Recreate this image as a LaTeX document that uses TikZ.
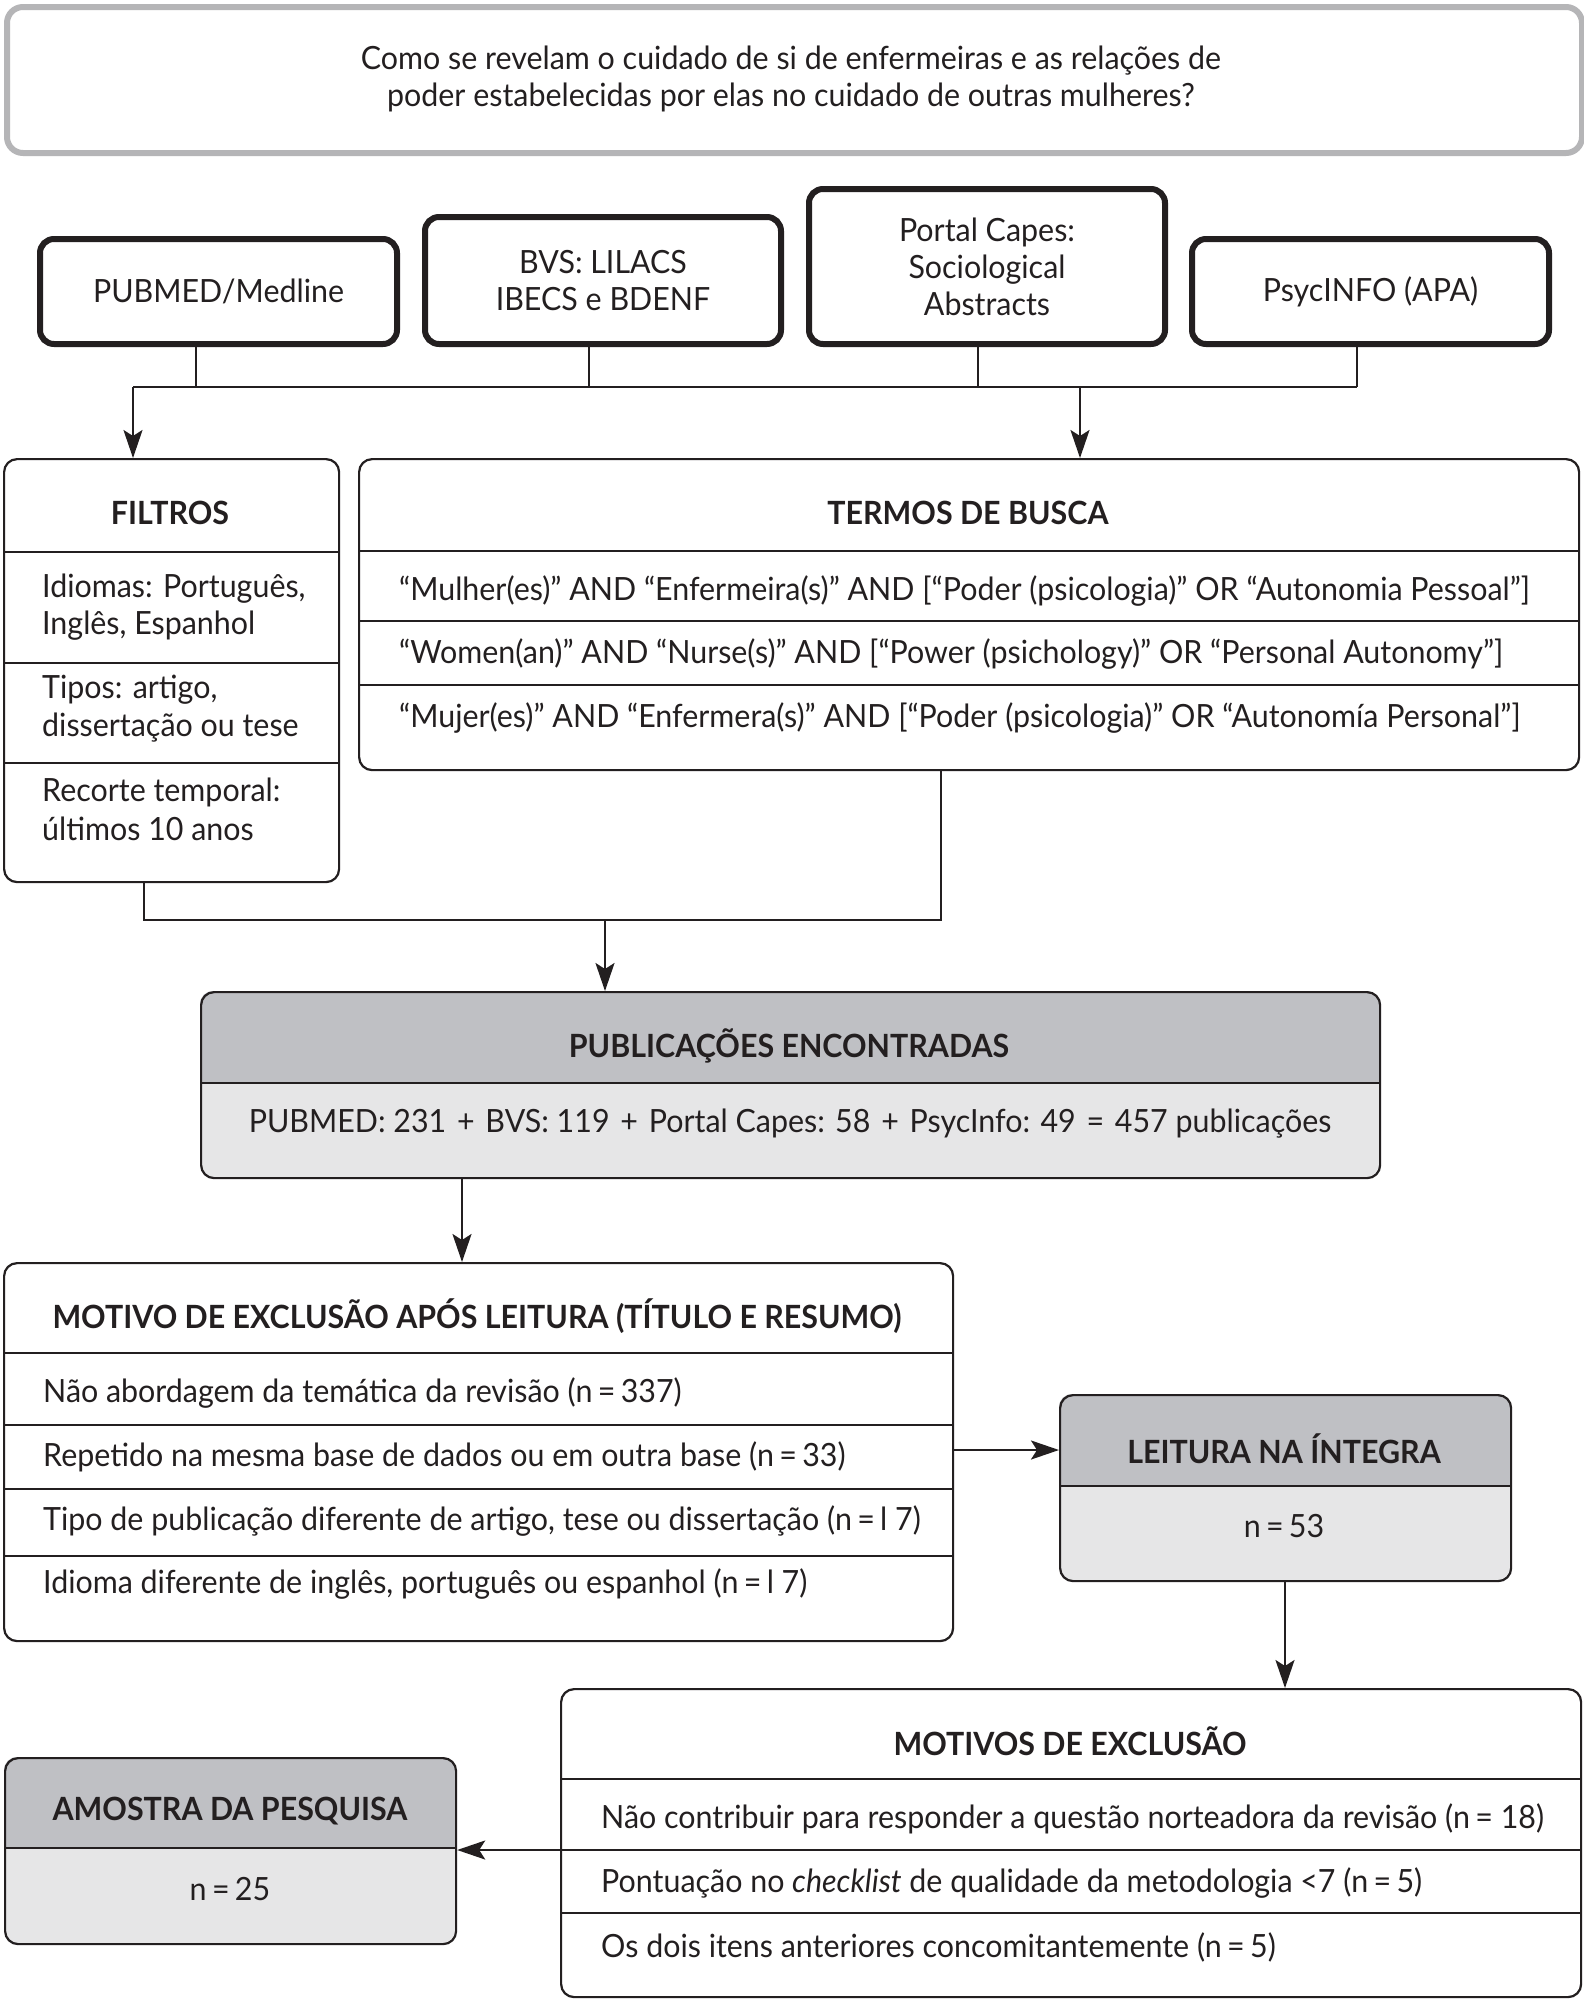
\documentclass[tikz,border=0pt]{standalone}
\usepackage{fontspec}
\setmainfont{Lato}[FakeStretch=0.95]
\usetikzlibrary{arrows.meta}
\pgfdeclarelayer{bg}
\pgfsetlayers{bg,main}
\definecolor{ink}{HTML}{231F20}
\definecolor{hdr}{HTML}{BFC0C4}
\definecolor{bodyg}{HTML}{E6E6E7}
\definecolor{frameg}{HTML}{B5B5B7}
\newcommand\grayhdbox[5]{% x1,y1,x2,y2,ydiv
  \begin{pgfonlayer}{bg}
    \fill[bodyg, rounded corners=13pt] (#1,#2) rectangle (#3,#4);
    \begin{scope}
      \clip[rounded corners=13pt] (#1,#2) rectangle (#3,#4);
      \fill[hdr] (#1,#2) rectangle (#3,#5);
    \end{scope}
  \end{pgfonlayer}}
\newcommand\pl{\kern3pt+\kern3pt}
\tikzset{
  box/.style={draw=ink, line width=2.2pt, rounded corners=13pt, inner sep=0pt, anchor=north west},
  srcbox/.style={draw=ink, line width=6pt, rounded corners=14pt, inner sep=0pt, anchor=north west},
  txt/.style={inner sep=0pt, text=ink, font=\fontsize{32}{37}\selectfont},
  hd/.style={inner sep=0pt, text=ink, font=\fontsize{32}{37}\selectfont\bfseries},
  div/.style={draw=ink, line width=2.6pt},
  conn/.style={draw=ink, line width=2.2pt},
  arr/.style={conn, -{Stealth[length=28pt,width=19pt,inset=6pt]}}
}
\begin{document}
\begin{tikzpicture}[x=1pt,y=-1pt]
\useasboundingbox (0,0) rectangle (1583,2000);
\begin{pgfonlayer}{bg}
  \fill[white] (0,0) rectangle (1583,2000);
\end{pgfonlayer}

% question box
\node[draw=frameg, line width=6pt, rounded corners=16pt, inner sep=0pt, anchor=north west,
      minimum width=1575pt, minimum height=146pt] (qbox) at (4,4) {};
\node[txt, align=center] (q) at (791,79) {Como se revelam o cuidado de si de enfermeiras e as relações de\\poder estabelecidas por elas no cuidado de outras mulheres?};

% sources
\node[srcbox, minimum width=357pt, minimum height=105pt] (pub) at (37,236) {};
\node[txt] (pubt) at (pub.center) {PUBMED/Medline};
\node[srcbox, minimum width=356pt, minimum height=127pt] (bvs) at (422,214) {};
\node[txt, align=center] (bvst) at (bvs.center) {BVS: LILACS\\IBECS e BDENF};
\node[srcbox, minimum width=356pt, minimum height=155pt] (cap) at (806,186) {};
\node[txt, align=center] (capt) at (cap.center) {Portal Capes:\\Sociological\\Abstracts};
\node[srcbox, minimum width=357pt, minimum height=105pt] (psy) at (1189,236) {};
\node[txt] (psyt) at (psy.center) {PsycINFO (APA)};

% filtros
\node[box, minimum width=335pt, minimum height=423pt] (fil) at (3,458) {};
\draw[div] (3,552) -- (338,552);
\draw[div] (3,663) -- (338,663);
\draw[div] (3,763) -- (338,763);
\node[hd] (filh) at (170,513) {FILTROS};
\node[txt, anchor=west] (f1) at (42,589) {Idiomas: Português,};
\node[txt, anchor=west] (f2) at (42,626) {Inglês, Espanhol};
\node[txt, anchor=west] (f3) at (42,690) {Tipos: artigo,};
\node[txt, anchor=west] (f4) at (42,728) {dissertação ou tese};
\node[txt, anchor=west] (f5) at (42,792) {Recorte temporal:};
\node[txt, anchor=west] (f6) at (42,829) {últimos 10 anos};

% termos
\node[box, minimum width=1220pt, minimum height=311pt] (ter) at (358,458) {};
\draw[div] (358,551) -- (1578,551);
\draw[div] (358,621) -- (1578,621);
\draw[div] (358,685) -- (1578,685);
\node[hd] (terh) at (968,513) {TERMOS DE BUSCA};
\node[txt, anchor=west] (t1) at (399,591) {“Mulher(es)” AND “Enfermeira(s)” AND [“Poder (psicologia)” OR “Autonomia Pessoal”]};
\node[txt, anchor=west] (t2) at (399,654) {“Women(an)” AND “Nurse(s)” AND [“Power (psichology)” OR “Personal Autonomy”]};
\node[txt, anchor=west] (t3) at (399,718) {“Mujer(es)” AND “Enfermera(s)” AND [“Poder (psicologia)” OR “Autonomía Personal”]};

% publicacoes
\grayhdbox{200}{991}{1379}{1177}{1083}
\node[box, minimum width=1179pt, minimum height=186pt] (pubs) at (200,991) {};
\draw[div] (200,1083) -- (1379,1083);
\node[hd] (pubsh) at (789,1046) {PUBLICAÇÕES ENCONTRADAS};
\node[txt] (pubsb) at (790,1124) {PUBMED: 231 \pl{} BVS: 119 \pl{} Portal Capes: 58 \pl{} PsycInfo: 49 \kern3pt=\kern3pt{} 457 publicações};

% motivo de exclusao
\node[box, minimum width=949pt, minimum height=378pt] (mot) at (3,1262) {};
\draw[div] (3,1353) -- (952,1353);
\draw[div] (3,1425) -- (952,1425);
\draw[div] (3,1489) -- (952,1489);
\draw[div] (3,1556) -- (952,1556);
\node[hd] (moth) at (477,1316) {MOTIVO DE EXCLUSÃO APÓS LEITURA (TÍTULO E RESUMO)};
\node[txt, anchor=west] (m1) at (43,1393) {Não abordagem da temática da revisão (n\,=\,337)};
\node[txt, anchor=west] (m2) at (43,1457) {Repetido na mesma base de dados ou em outra base (n\,=\,33)};
\node[txt, anchor=west] (m3) at (43,1521) {Tipo de publicação diferente de artigo, tese ou dissertação (n\,=\,l 7)};
\node[txt, anchor=west] (m4) at (43,1584) {Idioma diferente de inglês, português ou espanhol (n\,=\,l 7)};

% leitura
\grayhdbox{1059}{1394}{1510}{1580}{1486}
\node[box, minimum width=451pt, minimum height=186pt] (lei) at (1059,1394) {};
\draw[div] (1059,1486) -- (1510,1486);
\node[hd] (leih) at (1284,1449) {LEITURA NA ÍNTEGRA};
\node[txt] (leib) at (1284,1526) {n\,=\,53};

% motivos de exclusao
\node[box, minimum width=1020pt, minimum height=308pt] (mos) at (560,1688) {};
\draw[div] (560,1779) -- (1580,1779);
\draw[div] (560,1850) -- (1580,1850);
\draw[div] (560,1913) -- (1580,1913);
\node[hd] (mosh) at (1070,1741) {MOTIVOS DE EXCLUSÃO};
\node[txt, anchor=west] (s1) at (601,1819) {Não contribuir para responder a questão norteadora da revisão (n\,= 18)};
\node[txt, anchor=west] (s2) at (601,1883) {Pontuação no \textit{checklist} de qualidade da metodologia <7 (n\,=\,5)};
\node[txt, anchor=west] (s3) at (601,1947) {Os dois itens anteriores concomitantemente (n\,=\,5)};

% amostra
\grayhdbox{4}{1757}{455}{1943}{1848}
\node[box, minimum width=451pt, minimum height=186pt] (amo) at (4,1757) {};
\draw[div] (4,1848) -- (455,1848);
\node[hd] (amoh) at (230,1811) {AMOSTRA DA PESQUISA};
\node[txt] (amob) at (230,1889) {n\,=\,25};

% connectors
\coordinate (b1) at (196,387);
\coordinate (b2) at (589,387);
\coordinate (b3) at (978,387);
\coordinate (b4) at (1357,387);
\coordinate (bL) at (133,387);
\coordinate (bT) at (1080,387);
\draw[conn] (b1 |- pub.south) -- (b1);
\draw[conn] (b2 |- bvs.south) -- (b2);
\draw[conn] (b3 |- cap.south) -- (b3);
\draw[conn] (b4 |- psy.south) -- (b4);
\draw[conn] (bL) -- (b4);
\draw[arr] (bL) -- (bL |- fil.north);
\draw[arr] (bT) -- (bT |- ter.north);

\coordinate (j1) at (144,920);
\coordinate (j2) at (941,920);
\coordinate (j3) at (605,920);
\draw[conn] (j1 |- fil.south) -- (j1) -- (j2) -- (j2 |- ter.south);
\draw[arr] (j3) -- (j3 |- pubs.north);

\coordinate (k1) at (462,1200);
\draw[arr] (k1 |- pubs.south) -- (k1 |- mot.north);
\coordinate (k2) at (1000,1450);
\draw[arr] (mot.east |- k2) -- (lei.west |- k2);
\coordinate (k3) at (1285,1600);
\draw[arr] (k3 |- lei.south) -- (k3 |- mos.north);
\coordinate (k4) at (500,1850);
\draw[arr] (mos.west |- k4) -- (amo.east |- k4);
\end{tikzpicture}
\end{document}
